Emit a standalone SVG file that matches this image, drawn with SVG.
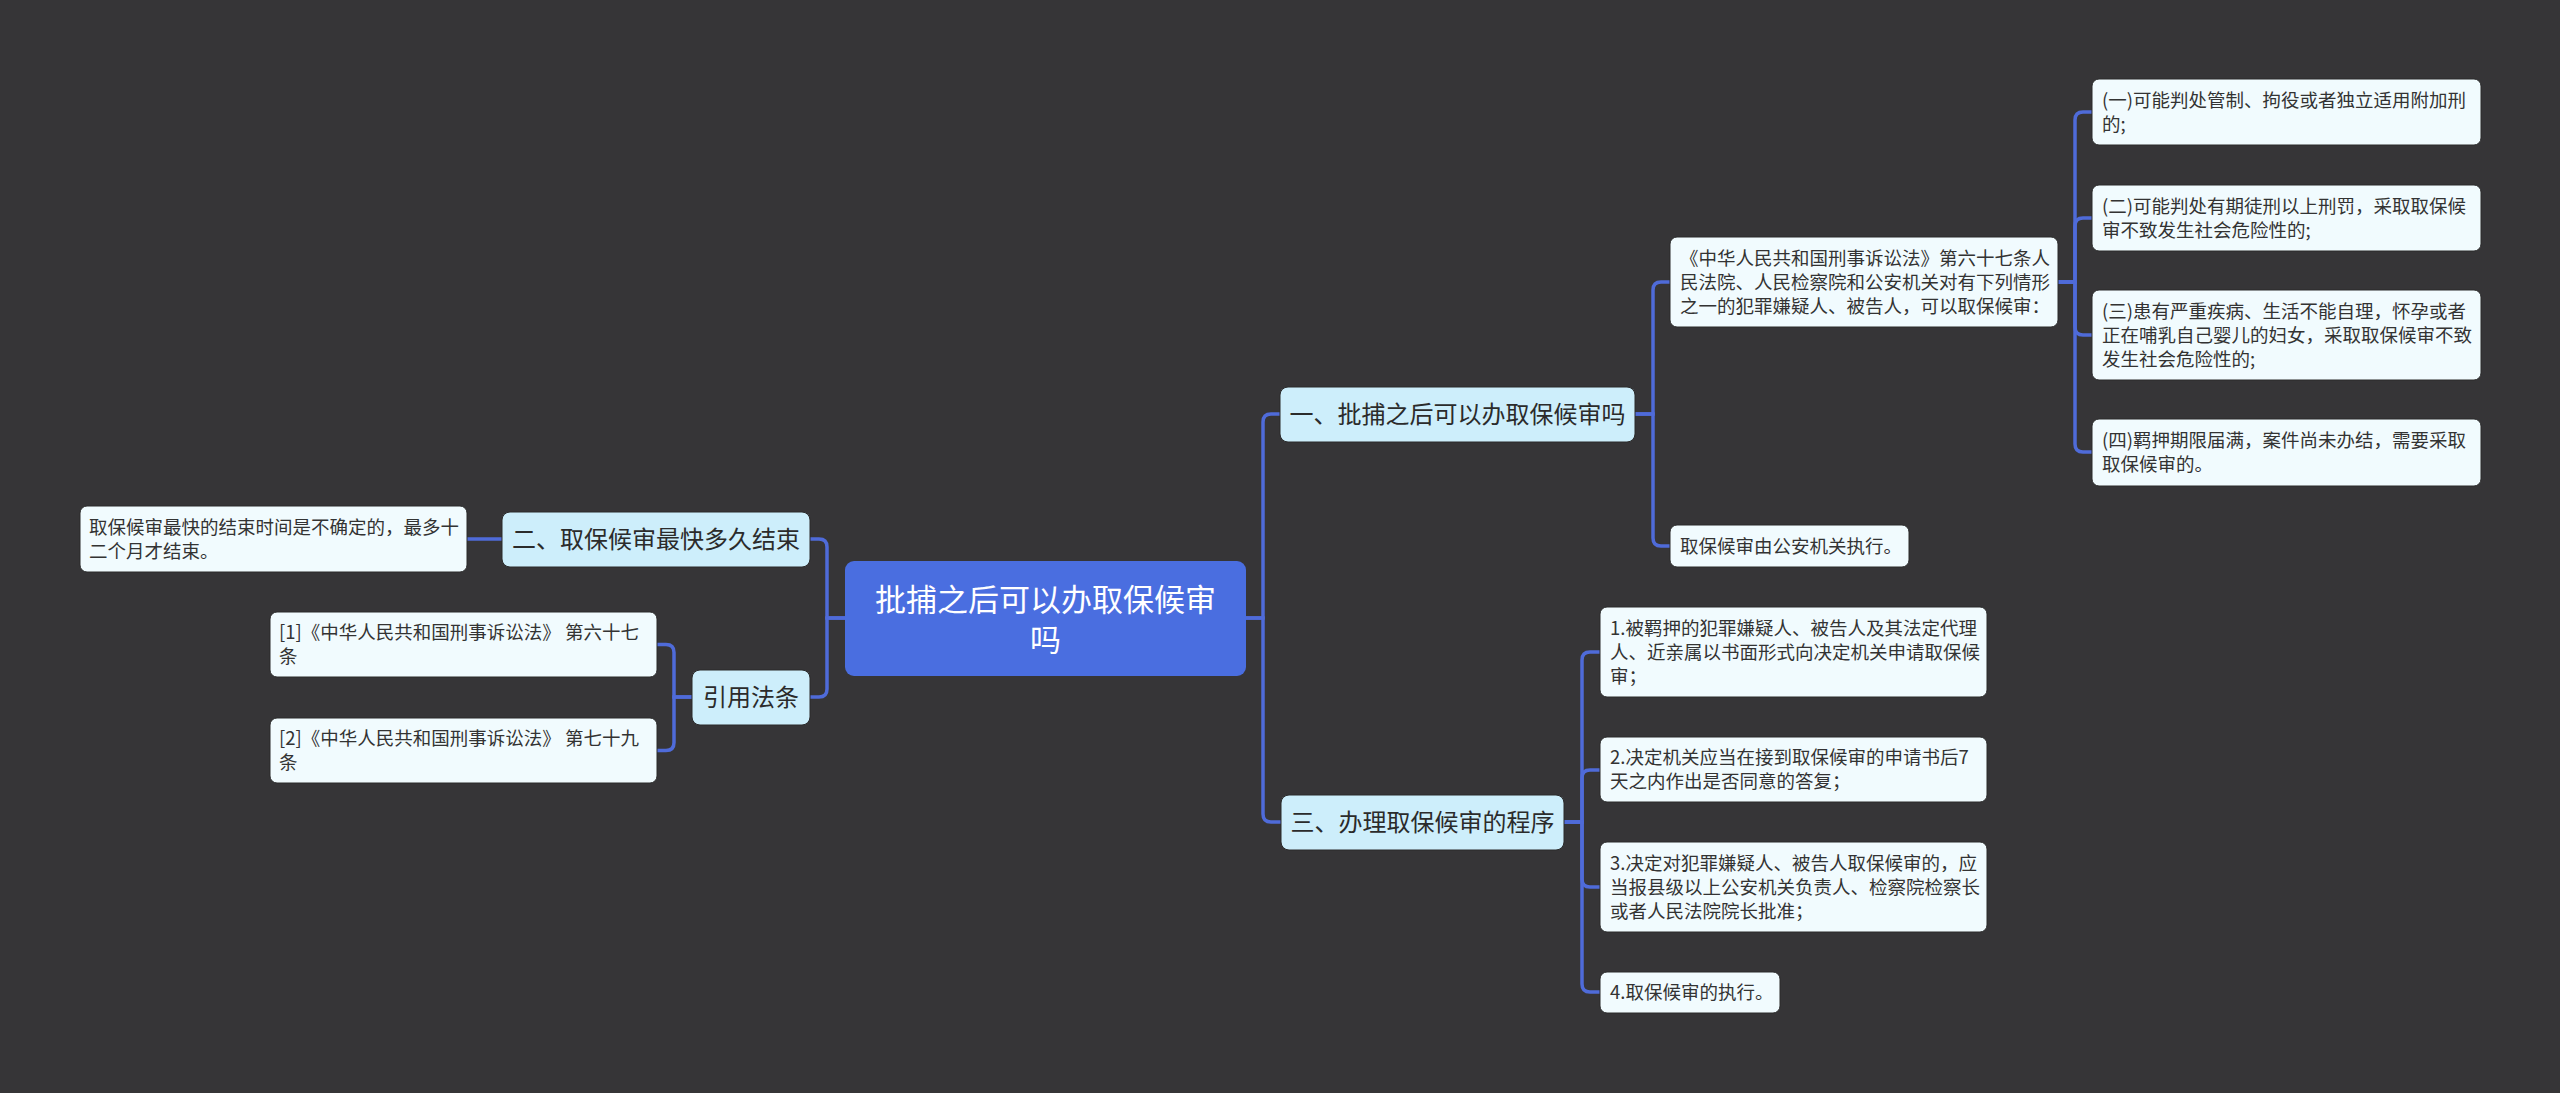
<svg xmlns="http://www.w3.org/2000/svg" width="2560" height="1093" viewBox="0 0 2560 1093">
<style>
.bg{fill:#363537}
.root rect{fill:#4a6ee0}
.root text{fill:#ffffff;font-size:31px;text-anchor:middle}
.l1 rect{fill:#cdeefb;stroke:#2a2a2a;stroke-width:1}
.l1 text{fill:#2b2b2b;font-size:24px;text-anchor:middle}
.leaf rect{fill:#f1fbfe;stroke:#2a2a2a;stroke-width:1}
.leaf text{fill:#333333;font-size:18.5px}
text{font-family:"Noto Sans CJK SC","Noto Sans",sans-serif}
.conn path{fill:none;stroke:#4f6bd9;stroke-width:3.5;stroke-linecap:round}
</style>
<rect class="bg" x="0" y="0" width="2560" height="1093"/>
<g id="connectors" class="conn">
<path d="M1246,618 H1263 V422 Q1263,414 1271,414 H1280"/>
<path d="M1246,618 H1263 V814 Q1263,822 1271,822 H1281"/>
<path d="M845,618 H827 V547 Q827,539 819,539 H810"/>
<path d="M845,618 H827 V689 Q827,697 819,697 H810"/>
<path d="M1635,414 H1653 V290 Q1653,282 1661,282 H1670"/>
<path d="M1635,414 H1653 V538 Q1653,546 1661,546 H1670"/>
<path d="M2058,282 H2075 V120 Q2075,112 2083,112 H2092"/>
<path d="M2058,282 H2075 V226 Q2075,218 2083,218 H2092"/>
<path d="M2058,282 H2075 V327 Q2075,335 2083,335 H2092"/>
<path d="M2058,282 H2075 V444 Q2075,452 2083,452 H2092"/>
<path d="M1564,822 H1582 V660 Q1582,652 1590,652 H1600"/>
<path d="M1564,822 H1582 V778 Q1582,770 1590,770 H1600"/>
<path d="M1564,822 H1582 V879 Q1582,887 1590,887 H1600"/>
<path d="M1564,822 H1582 V984 Q1582,992 1590,992 H1600"/>
<path d="M502,539 H467"/>
<path d="M692,697 H674 V652.5 Q674,644.5 666,644.5 H657"/>
<path d="M692,697 H674 V742.5 Q674,750.5 666,750.5 H657"/>
</g>
<g id="root" class="root">
<rect x="845" y="561" width="401" height="115" rx="9"/>
<text x="1045.5" y="611">批捕之后可以办取保候审</text>
<text x="1045.5" y="651">吗</text>
</g>
<g id="n1" class="l1">
<rect x="1280" y="387" width="355" height="55" rx="8"/>
<text x="1457.5" y="423">一、批捕之后可以办取保候审吗</text>
</g>
<g id="n3" class="l1">
<rect x="1281" y="795" width="283" height="55" rx="8"/>
<text x="1422.5" y="831">三、办理取保候审的程序</text>
</g>
<g id="n2" class="l1">
<rect x="502" y="512" width="308" height="55" rx="8"/>
<text x="656" y="548">二、取保候审最快多久结束</text>
</g>
<g id="nref" class="l1">
<rect x="692" y="670" width="118" height="55" rx="8"/>
<text x="751" y="706">引用法条</text>
</g>
<g id="n2a" class="leaf">
<rect x="80" y="506" width="387" height="66" rx="7"/>
<text x="89" y="534">取保候审最快的结束时间是不确定的，最多十</text>
<text x="89" y="558">二个月才结束。</text>
</g>
<g id="ref1" class="leaf">
<rect x="270" y="612" width="387" height="65" rx="7"/>
<text x="279" y="639">[1]《中华人民共和国刑事诉讼法》 第六十七</text>
<text x="279" y="663">条</text>
</g>
<g id="ref2" class="leaf">
<rect x="270" y="718" width="387" height="65" rx="7"/>
<text x="279" y="745">[2]《中华人民共和国刑事诉讼法》 第七十九</text>
<text x="279" y="769">条</text>
</g>
<g id="n1a" class="leaf">
<rect x="1670" y="237" width="388" height="90" rx="7"/>
<text x="1680" y="264.5">《中华人民共和国刑事诉讼法》第六十七条人</text>
<text x="1680" y="288.5">民法院、人民检察院和公安机关对有下列情形</text>
<text x="1680" y="312.5">之一的犯罪嫌疑人、被告人，可以取保候审：</text>
</g>
<g id="n1b" class="leaf">
<rect x="1670" y="525" width="239" height="42" rx="7"/>
<text x="1680" y="552.5">取保候审由公安机关执行。</text>
</g>
<g id="c1" class="leaf">
<rect x="2092" y="79" width="389" height="66" rx="7"/>
<text x="2102" y="106.5">(一)可能判处管制、拘役或者独立适用附加刑</text>
<text x="2102" y="130.5">的;</text>
</g>
<g id="c2" class="leaf">
<rect x="2092" y="185" width="389" height="66" rx="7"/>
<text x="2102" y="212.5">(二)可能判处有期徒刑以上刑罚，采取取保候</text>
<text x="2102" y="236.5">审不致发生社会危险性的;</text>
</g>
<g id="c3" class="leaf">
<rect x="2092" y="290" width="389" height="90" rx="7"/>
<text x="2102" y="317.5">(三)患有严重疾病、生活不能自理，怀孕或者</text>
<text x="2102" y="341.5">正在哺乳自己婴儿的妇女，采取取保候审不致</text>
<text x="2102" y="365.5">发生社会危险性的;</text>
</g>
<g id="c4" class="leaf">
<rect x="2092" y="419" width="389" height="67" rx="7"/>
<text x="2102" y="447">(四)羁押期限届满，案件尚未办结，需要采取</text>
<text x="2102" y="471">取保候审的。</text>
</g>
<g id="p1" class="leaf">
<rect x="1600" y="607" width="387" height="90" rx="7"/>
<text x="1610" y="634.5">1.被羁押的犯罪嫌疑人、被告人及其法定代理</text>
<text x="1610" y="658.5">人、近亲属以书面形式向决定机关申请取保候</text>
<text x="1610" y="682.5">审；</text>
</g>
<g id="p2" class="leaf">
<rect x="1600" y="737" width="387" height="65" rx="7"/>
<text x="1610" y="764">2.决定机关应当在接到取保候审的申请书后7</text>
<text x="1610" y="788">天之内作出是否同意的答复；</text>
</g>
<g id="p3" class="leaf">
<rect x="1600" y="842" width="387" height="90" rx="7"/>
<text x="1610" y="869.5">3.决定对犯罪嫌疑人、被告人取保候审的，应</text>
<text x="1610" y="893.5">当报县级以上公安机关负责人、检察院检察长</text>
<text x="1610" y="917.5">或者人民法院院长批准；</text>
</g>
<g id="p4" class="leaf">
<rect x="1600" y="972" width="180" height="41" rx="7"/>
<text x="1610" y="999">4.取保候审的执行。</text>
</g>
</svg>
